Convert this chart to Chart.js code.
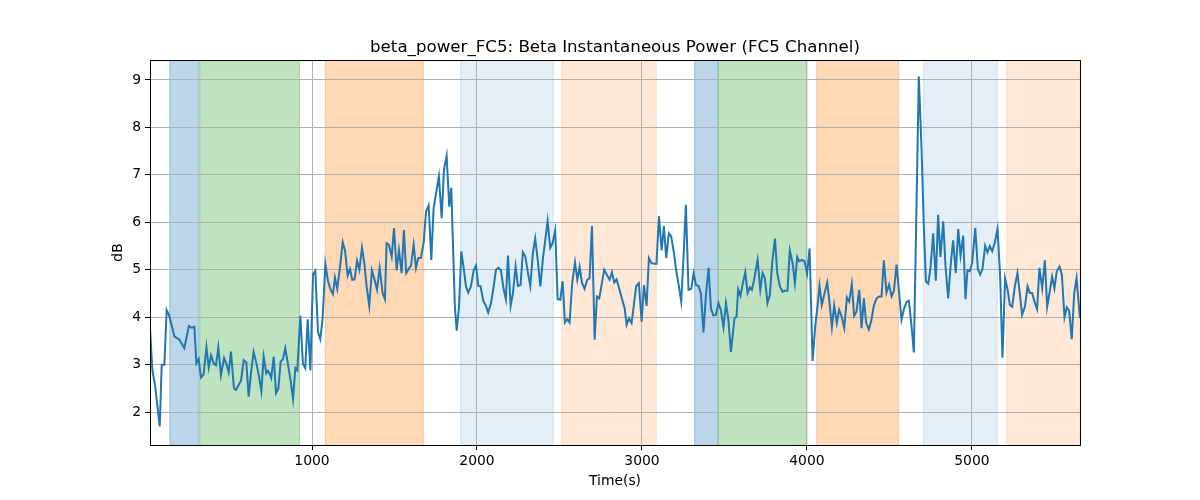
<!DOCTYPE html>
<html>
<head>
<meta charset="utf-8">
<script src="https://cdn.jsdelivr.net/npm/chart.js@4.4.1/dist/chart.umd.min.js"></script>
<style>
  html, body { margin: 0; padding: 0; background: #fff; }
  #wrap { width: 1200px; height: 500px; }
</style>
</head>
<body>
<div id="wrap"><canvas id="c" width="1200" height="500"></canvas></div>
<script>
// ---- data ----
const times = [18,32,48,77,89,105,119,133,166,196,226,254,271,287,299,313,327,343,360,374,388,404,418,432,448,467,481,495,509,527,539,570,586,602,616,630,646,663,679,693,707,
723,733,743,753,768,782,796,810,824,838,854,871,885,899,911,929,945,959,974,990,1006,1020,1036,1050,1064,1081,1097,1113,1127,1139,1153,1170,1186,1200,1216,1230,1244,1258,1273,1287,1303,1317,1331,1347,1363,1380,1394,1410,1428,
1442,1452,1466,1483,1497,1513,1527,1543,1557,1571,1586,1600,1616,1630,1644,1660,1677,1691,1707,1723,1737,1753,1769,1786,1800,1816,1832,1844,1856,1866,1877,1891,1905,1919,1933,1947,1963,1980,1994,2008,2022,2038,2054,2068,2085,2101,2115,2129,
2145,2161,2175,2188,2204,2218,2234,2248,2264,2278,2293,2309,2323,2339,2353,2369,2384,2400,2414,2428,2444,2458,2474,2489,2505,2519,2533,2547,2561,2577,2594,2608,2622,2636,2652,2668,2682,2697,2713,2727,2741,2757,2771,2788,2804,2818,2832,
2846,2864,2880,2895,2907,2921,2937,2951,2965,2981,2998,3012,3028,3042,3058,3074,3088,3103,3119,3133,3147,3163,3177,3194,3208,3224,3238,3252,3266,3282,3299,3313,3327,3343,3357,3373,3387,3404,3418,3432,3448,3464,3478,3494,3509,3523,3539,
3561,3573,3583,3597,3612,3626,3640,3654,3666,3678,3701,3717,3731,3745,3761,3775,3789,3806,3820,3836,3852,3866,3882,3896,3913,3927,3941,3953,3969,3985,4001,4016,4034,4050,4064,4076,4090,4107,4123,4137,4151,4165,4181,4195,4210,4226,4242,4256,
4272,4286,4300,4317,4331,4345,4359,4375,4391,4405,4422,4438,4452,4466,4482,4498,4513,4527,4543,4557,4573,4589,4605,4618,4634,4648,4678,4695,4708,4721,4735,4749,4765,4781,4795,4809,4826,4840,4856,4872,4886,4902,4917,4931,4947,4961,
4973,4987,5001,5020,5036,5050,5064,5080,5094,5108,5123,5139,5155,5171,5185,5201,5216,5230,5244,5260,5276,5290,5304,5321,5337,5351,5365,5379,5395,5409,5426,5442,5456,5470,5486,5500,5514,5531,5545,5561,5575,5589,5605,5620,5634,5655];
const powerDb = [3.78,2.9,2.58,1.7,3.0,3.0,4.15,4.05,3.6,3.53,3.35,3.82,3.78,3.8,3.03,3.12,2.73,2.8,3.37,2.94,3.2,3.03,2.99,3.37,2.78,3.14,3.02,2.84,3.28,2.5,2.47,2.67,3.1,3.05,2.33,2.82,3.27,3.03,2.75,2.44,3.17,
2.82,2.87,2.82,2.72,3.17,2.4,2.5,3.07,3.12,3.35,3.02,2.65,2.28,2.93,2.88,4.03,3.02,2.93,3.96,2.88,4.9,4.98,3.7,3.54,3.96,5.12,4.76,4.58,4.49,4.84,4.6,5.07,5.58,5.41,4.88,5.02,4.79,4.8,5.19,5.0,5.47,5.14,4.65,4.24,4.99,4.78,4.58,5.04,4.51,
4.38,5.56,5.53,5.28,5.88,4.99,5.42,4.93,5.84,4.93,5.02,5.09,5.53,5.04,5.25,5.25,5.58,6.23,6.36,5.21,6.3,6.63,6.97,6.09,7.11,7.4,6.33,6.73,5.35,4.22,3.72,4.22,5.39,5.04,4.65,4.52,4.65,4.99,5.09,4.66,4.65,4.35,4.24,4.1,4.3,4.65,5.0,5.04,
4.99,4.6,4.38,5.3,4.24,4.51,5.07,4.66,4.68,5.37,5.28,4.93,4.66,5.36,5.66,5.18,4.65,5.25,5.63,6.03,5.46,5.56,5.83,4.38,4.37,4.76,3.89,3.96,3.89,4.72,5.16,4.79,5.06,4.73,4.6,4.79,4.82,5.92,3.53,4.44,4.4,4.72,5.0,4.89,4.79,4.95,4.73,
4.8,4.58,4.37,4.19,3.84,3.98,3.88,4.26,4.66,4.72,3.91,4.68,4.24,5.25,5.14,5.13,5.13,6.13,5.41,5.92,5.25,5.77,5.71,5.35,4.97,4.65,4.33,5.28,6.37,4.58,4.6,4.93,4.68,4.66,4.51,3.68,4.44,5.04,4.19,4.04,4.05,4.3,4.16,3.79,4.3,3.98,3.27,
3.98,4.01,4.59,4.45,4.73,4.95,4.51,4.63,4.58,4.76,5.21,4.58,4.93,4.82,4.3,4.47,5.14,5.66,4.93,4.65,4.54,4.56,4.56,5.41,5.14,4.72,5.27,5.18,5.21,5.18,4.92,5.45,3.08,3.81,4.23,4.66,4.26,4.51,4.73,4.3,3.79,4.25,3.88,4.16,4.02,3.77,4.42,4.33,
4.7,4.03,4.12,4.58,3.77,4.4,3.88,3.74,3.95,4.24,4.4,4.44,4.44,5.2,4.52,4.69,4.44,4.56,5.11,4.59,3.95,4.19,4.33,4.35,3.81,3.26,9.07,7.5,5.95,4.76,4.71,5.04,5.77,4.77,6.16,5.27,6.02,5.07,4.4,5.14,5.62,4.93,5.86,5.3,5.72,4.38,
4.99,4.97,5.14,5.88,5.02,4.9,5.02,5.51,5.37,5.5,5.39,5.58,5.86,4.86,3.15,4.82,4.58,4.26,4.22,4.65,4.93,4.51,4.05,4.22,4.65,4.51,4.51,4.33,4.17,5.04,4.61,5.2,4.22,4.51,4.86,4.61,4.97,5.07,4.9,4.0,4.21,4.14,3.54,4.51,4.82,3.98];

const bandStart = [138, 319, 1081, 1901, 2513, 3319, 3463, 4059, 4707, 5210];
const bandEnd   = [313, 924, 1675, 2463, 3087, 3460, 4000, 4555, 5154, 5655];
const bandKind  = ['blue','green','orange','lightblue','lightorange','blue','green','orange','lightblue','lightorange'];

const xTicks = [1000, 2000, 3000, 4000, 5000];
const yTicks = [2, 3, 4, 5, 6, 7, 8, 9];
const xRange = [18, 5655];
const yRange = [1.31, 9.42];

const titleText = 'beta_power_FC5: Beta Instantaneous Power (FC5 Channel)';
const xLabel = 'Time(s)';
const yLabel = 'dB';

// ---- styles ----
const bandStyle = {
  blue:        'rgba(31,119,180,0.30)',
  green:       'rgba(44,160,44,0.30)',
  orange:      'rgba(255,127,14,0.30)',
  lightblue:   'rgba(31,119,180,0.12)',
  lightorange: 'rgba(255,127,14,0.17)'
};
const FONT = 'DejaVu Sans';

const bandsPlugin = {
  id: 'bands',
  beforeDraw(chart) {
    const {ctx, chartArea, scales} = chart;
    ctx.save();
    ctx.beginPath();
    ctx.rect(chartArea.left, chartArea.top, chartArea.right - chartArea.left, chartArea.bottom - chartArea.top);
    ctx.clip();
    for (let i = 0; i < bandStart.length; i++) {
      const x0 = scales.x.getPixelForValue(bandStart[i]);
      const x1 = scales.x.getPixelForValue(bandEnd[i]);
      ctx.fillStyle = bandStyle[bandKind[i]];
      ctx.fillRect(x0, chartArea.top, x1 - x0, chartArea.bottom - chartArea.top);
      ctx.strokeStyle = bandStyle[bandKind[i]];
      ctx.lineWidth = 1.2;
      ctx.beginPath();
      ctx.moveTo(x0, chartArea.top); ctx.lineTo(x0, chartArea.bottom);
      ctx.moveTo(x1, chartArea.top); ctx.lineTo(x1, chartArea.bottom);
      ctx.stroke();
    }
    ctx.restore();
  },
  afterDatasetsDraw(chart) {
    const {ctx, chartArea} = chart;
    ctx.save();
    ctx.strokeStyle = '#000';
    ctx.lineWidth = 1;
    ctx.strokeRect(Math.round(chartArea.left) + 0.5, Math.round(chartArea.top) + 0.5,
                   Math.round(chartArea.right - chartArea.left), Math.round(chartArea.bottom - chartArea.top));
    ctx.restore();
  }
};

const tickFont = {family: FONT, size: 13.9, weight: 'normal', lineHeight: 1.2};

new Chart(document.getElementById('c'), {
  type: 'line',
  data: {
    datasets: [{
      data: times.map((t, i) => ({x: t, y: powerDb[i]})),
      borderColor: '#1f77b4',
      borderWidth: 2,
      pointRadius: 0,
      tension: 0,
      fill: false,
      clip: 0
    }]
  },
  options: {
    responsive: false,
    animation: false,
    devicePixelRatio: 1,
    layout: {padding: {left: 0, right: 120, top: 0, bottom: 0}},
    plugins: {
      legend: {display: false},
      tooltip: {enabled: false},
      title: {
        display: true,
        text: titleText,
        fullSize: false,
        color: '#000',
        font: {family: FONT, size: 16.67, weight: 'normal', lineHeight: 1.2},
        padding: {top: 38, bottom: 2}
      }
    },
    scales: {
      x: {
        type: 'linear',
        min: xRange[0],
        max: xRange[1],
        afterBuildTicks: s => { s.ticks = xTicks.map(v => ({value: v})); },
        afterFit: s => { s.height = 55; },
        grid: {color: '#b0b0b0', lineWidth: 1, tickColor: '#000', tickLength: 5, drawTicks: true},
        border: {color: '#000', width: 1},
        ticks: {color: '#000', font: tickFont, padding: 3, maxRotation: 0, autoSkip: false, callback: v => String(v)},
        title: {display: true, text: xLabel, color: '#000', font: tickFont, padding: {top: 0, bottom: 10}}
      },
      y: {
        type: 'linear',
        min: yRange[0],
        max: yRange[1],
        afterBuildTicks: s => { s.ticks = yTicks.map(v => ({value: v})); },
        afterFit: s => { s.width = 150; },
        grid: {color: '#b0b0b0', lineWidth: 1, tickColor: '#000', tickLength: 5, drawTicks: true},
        border: {color: '#000', width: 1},
        ticks: {color: '#000', font: tickFont, padding: 4, autoSkip: false, callback: v => String(v)},
        title: {display: true, text: yLabel, color: '#000', font: tickFont, padding: {top: 110, bottom: 0}}
      }
    }
  },
  plugins: [bandsPlugin]
});
</script>
</body>
</html>
